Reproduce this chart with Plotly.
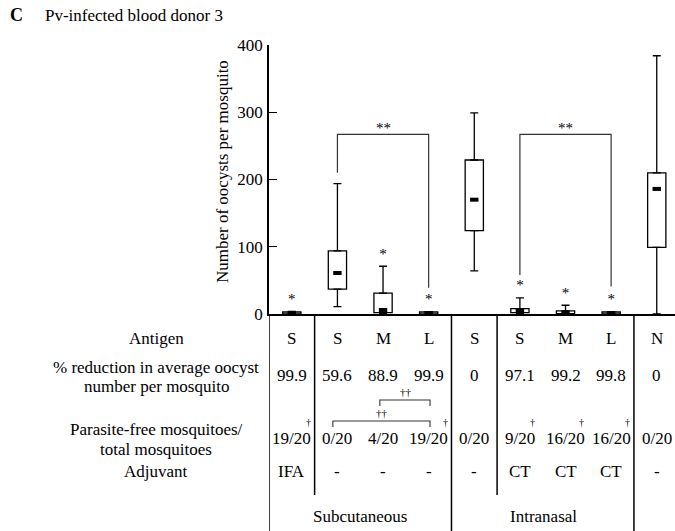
import plotly.graph_objects as go

# ---------------- data ----------------
positions = [1, 2, 3, 4, 5, 6, 7, 8, 9]
antigen = ["S", "S", "M", "L", "S", "S", "M", "L", "N"]
reduction = ["99.9", "59.6", "88.9", "99.9", "0", "97.1", "99.2", "99.8", "0"]
parasite_free = ["19/20", "0/20", "4/20", "19/20", "0/20", "9/20", "16/20", "16/20", "0/20"]
dagger = [True, False, False, True, False, True, True, True, False]
adjuvant = ["IFA", "-", "-", "-", "-", "CT", "CT", "CT", "-"]

whisker_low = [0, 11, 0, 0, 64, 0, 0, 0, 0]
q1 = [0, 37, 2, 0, 124, 2, 0.5, 0, 99]
median = [1, 61, 6, 1.5, 170, 5, 2, 1.5, 186]
q3 = [3, 94, 31, 3, 229, 8, 4.5, 3, 210]
whisker_high = [4, 194, 71, 3.5, 299, 24, 13, 3.5, 384]
significant = [True, False, True, True, False, True, True, True, False]

brackets = [(2, 4), (6, 8)]
bracket_top = 267
bracket_leg_ends = [(210, 39), (58, 41)]

y_ticks = [0, 100, 200, 300, 400]

# ---------------- geometry helpers ----------------
W, H = 675, 531
L_PX, R_PX = 269, 675
TOP_PX, ZERO_PX = 45, 314
X_RANGE = [0.5, 9.4]
PXU = (R_PX - L_PX) / (X_RANGE[1] - X_RANGE[0])


def yp(py):
    return (ZERO_PX - py) / (ZERO_PX - TOP_PX)


def xp(px):
    return (px - L_PX) / (R_PX - L_PX)


FONT = "Liberation Serif"
FS = 17

fig = go.Figure()

# boxes
fig.add_trace(go.Bar(
    x=positions, y=[b - a for a, b in zip(q1, q3)], base=q1, width=0.4,
    marker=dict(color="white", line=dict(color="black", width=1.3)),
    cliponaxis=False, showlegend=False, hoverinfo="skip"))

# upper whiskers
fig.add_trace(go.Scatter(
    x=positions, y=q3, mode="markers",
    marker=dict(size=1, color="rgba(0,0,0,0)"),
    error_y=dict(type="data", symmetric=False,
                 array=[h - b for h, b in zip(whisker_high, q3)],
                 arrayminus=[0] * len(q3), color="black", thickness=1.3, width=4),
    cliponaxis=False, showlegend=False, hoverinfo="skip"))
# lower whiskers
fig.add_trace(go.Scatter(
    x=positions, y=q1, mode="markers",
    marker=dict(size=1, color="rgba(0,0,0,0)"),
    error_y=dict(type="data", symmetric=False,
                 array=[0] * len(q1),
                 arrayminus=[a - l for a, l in zip(q1, whisker_low)],
                 color="black", thickness=1.3, width=4),
    cliponaxis=False, showlegend=False, hoverinfo="skip"))
# medians
fig.add_trace(go.Scatter(
    x=positions, y=median, mode="markers",
    marker=dict(symbol="line-ew", size=6, line=dict(color="black", width=4)),
    cliponaxis=False, showlegend=False, hoverinfo="skip"))

# asterisks
sx = [p for p, s in zip(positions, significant) if s]
sy = [h + 17 for h, s in zip(whisker_high, significant) if s]
fig.add_trace(go.Scatter(
    x=sx, y=sy, mode="text", text=["*"] * len(sx),
    textposition="middle center",
    textfont=dict(family=FONT, size=15, color="black"),
    cliponaxis=False, showlegend=False, hoverinfo="skip"))

shapes = []
annotations = []

# significance brackets in plot
for (a, b), (la, lb) in zip(brackets, bracket_leg_ends):
    shapes.append(dict(type="path", xref="x", yref="y",
                       path=f"M {a},{la} L {a},{bracket_top} L {b},{bracket_top} L {b},{lb}",
                       line=dict(color="#333", width=1.2)))
    annotations.append(dict(x=(a + b) / 2, y=bracket_top, xref="x", yref="y",
                            text="**", showarrow=False, yanchor="bottom", yshift=-4,
                            font=dict(family=FONT, size=15, color="black")))

# table dividers
for xd, bottom in [(0.5, 531), (1.5, 495), (4.5, 531), (5.5, 495), (8.5, 531)]:
    shapes.append(dict(type="line", xref="x", yref="paper", x0=xd, x1=xd,
                       y0=0, y1=yp(bottom), line=dict(color="black", width=1.5)))


def txt(x, y, s, xref="x", size=FS, **kw):
    d = dict(x=x, y=y, xref=xref, yref="paper", text=s, showarrow=False,
             font=dict(family=FONT, size=size, color="black"),
             xanchor="center", yanchor="middle")
    d.update(kw)
    annotations.append(d)


# row labels
LX = xp(156)
txt(LX, yp(338), "Antigen", xref="paper")
txt(LX, yp(367), "% reduction in average oocyst", xref="paper")
txt(LX, yp(387), "number per mosquito", xref="paper")
txt(LX, yp(429), "Parasite-free mosquitoes/", xref="paper")
txt(LX, yp(449), "total mosquitoes", xref="paper")
txt(LX, yp(471), "Adjuvant", xref="paper")

# table values
def str_w(s):
    w = 0
    for ch in s:
        w += 0.278 if ch in "/." else 0.5
    return w * FS


for p, a, r, pf, dg, ad in zip(positions, antigen, reduction, parasite_free, dagger, adjuvant):
    txt(p, yp(338), a)
    txt(p, yp(375), r)
    txt(p, yp(438), pf)
    if dg:
        off = (str_w(pf) / 2 - 3) / PXU
        txt(p + off, yp(423), "†", size=10)
    txt(p, yp(471), ad)

# dagger brackets in table
for (xa, xb, yh, yl, ty, tx) in [(2.93, 4.03, 400, 406, 392, 3.5), (1.90, 4.03, 421, 427, 413, 2.98)]:
    shapes.append(dict(type="path", xref="x", yref="paper",
                       path=f"M {xa},{yp(yl)} L {xa},{yp(yh)} L {xb},{yp(yh)} L {xb},{yp(yl)}",
                       line=dict(color="#333", width=1.1)))
    txt(tx, yp(ty), "††", size=11)

# group labels
txt(xp(360), yp(516), "Subcutaneous", xref="paper")
txt(xp(543), yp(516), "Intranasal", xref="paper")

# y-axis title
annotations.append(dict(x=xp(222), y=yp(172), xref="paper", yref="paper",
                        text="Number of oocysts per mosquito", textangle=-90,
                        showarrow=False, xanchor="center", yanchor="middle",
                        font=dict(family=FONT, size=FS, color="black")))

# panel title
annotations.append(dict(x=xp(8), y=yp(15), xref="paper", yref="paper", text="<b>C</b>",
                        showarrow=False, xanchor="left", yanchor="middle",
                        font=dict(family=FONT, size=18, color="black")))
annotations.append(dict(x=xp(43), y=yp(15), xref="paper", yref="paper",
                        text="Pv-infected blood donor 3",
                        showarrow=False, xanchor="left", yanchor="middle",
                        font=dict(family=FONT, size=FS, color="black")))

fig.update_layout(
    width=W, height=H,
    margin=dict(l=L_PX, r=W - R_PX, t=TOP_PX, b=H - ZERO_PX, autoexpand=False),
    paper_bgcolor="white", plot_bgcolor="white",
    font=dict(family=FONT, size=FS, color="black"),
    shapes=shapes, annotations=annotations, showlegend=False,
    xaxis=dict(range=X_RANGE, showgrid=False, zeroline=False, showticklabels=False,
               showline=True, linecolor="black", linewidth=1.5, ticks="", fixedrange=True),
    yaxis=dict(range=[0, 400], tickvals=y_ticks, showgrid=False, zeroline=False,
               showline=True, linecolor="black", linewidth=1.5,
               ticks="inside", ticklen=8, tickwidth=1.3, tickcolor="black",
               ticklabelstandoff=1,
               tickfont=dict(family=FONT, size=FS, color="black"), fixedrange=True),
)

fig.write_html("out.html")
